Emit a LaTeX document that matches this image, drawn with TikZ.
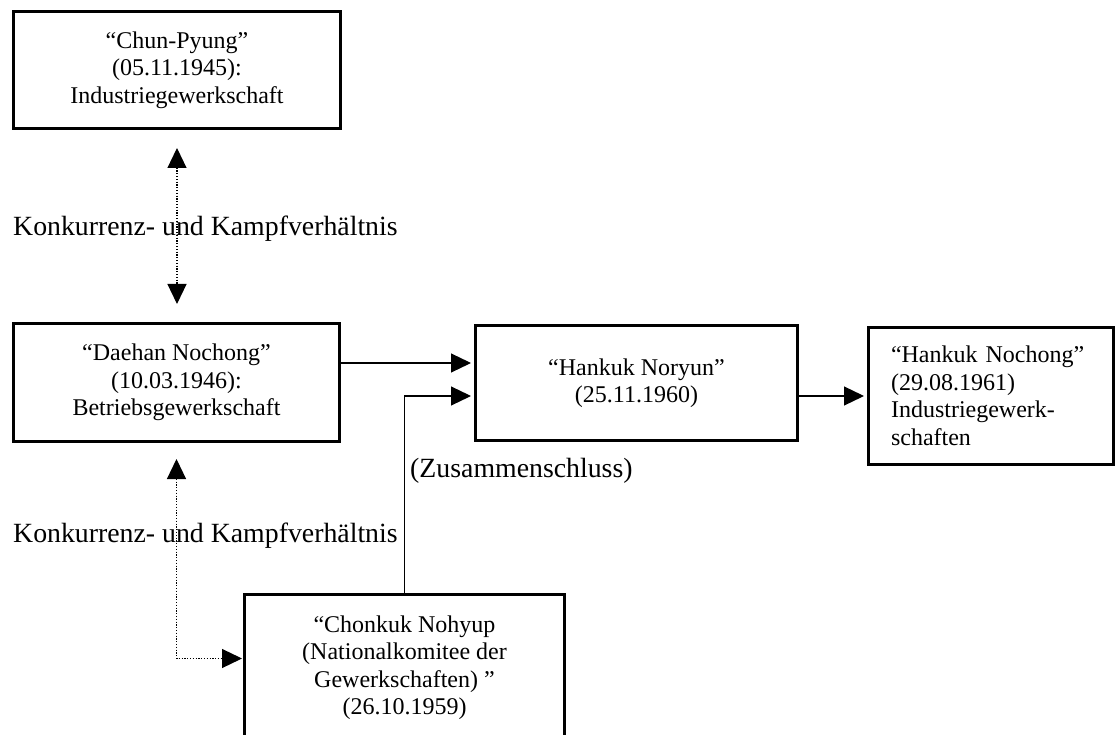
\documentclass[tikz,border=0pt]{standalone}
\usepackage{fontspec}
\setmainfont{Liberation Serif}
\usetikzlibrary{arrows.meta}

\begin{document}
\begin{tikzpicture}[
            x=1pt,
            y=-1pt,
            >={Triangle[length=20pt,width=19pt]},
            union/.style={draw, line width=3pt, align=center, inner sep=0pt,
              font={\fontsize{24pt}{27.5pt}\selectfont}},
            link/.style={line width=1.2pt, ->, shorten >=3pt},
            rival/.style={line width=1.2pt, dash pattern=on 1.2pt off 1.6pt, <->},
            note/.style={inner sep=0pt, anchor=base west,
              font={\fontsize{27.8pt}{32pt}\selectfont}},
          ]
          \useasboundingbox (0,0) rectangle (1117,735);
          \clip (0,0) rectangle (1117,735);
          \node[union, minimum width=327pt, minimum height=117pt] (chun) at (177,70)
            {“Chun-Pyung”\\(05.11.1945):\\Industriegewerkschaft};
          \node[union, minimum width=326pt, minimum height=118pt] (daehan) at (176.5,382.5)
            {“Daehan Nochong”\\(10.03.1946):\\Betriebsgewerkschaft};
          \node[union, minimum width=322pt, minimum height=115pt] (noryun) at (636.5,383)
            {“Hankuk Noryun”\\(25.11.1960)};
          \node[union, align=left, text width=200pt, minimum width=245pt, minimum height=137pt] (nochong) at (991,396)
            {“Hankuk Nochong”\\(29.08.1961)\\Industriegewerk-\\schaften};
          \node[union, minimum width=320pt, minimum height=146pt] (chonkuk) at (404.5,667.5)
            {“Chonkuk Nohyup\\(Nationalkomitee der\\Gewerkschaften) ”\\(26.10.1959)};
          \coordinate (inA) at ([yshift=20pt]noryun.west);
          \coordinate (inB) at ([yshift=-13pt]noryun.west);
          \coordinate (inC) at ([yshift=9pt]chonkuk.west);
          \draw[rival, shorten <=18pt, shorten >=18pt] (chun.south) -- (chun.south |- daehan.north);
          \draw[rival, shorten <=16pt, shorten >=1pt] (daehan.south) |- (inC);
          \draw[link] (daehan.east |- inA) -- (inA);
          \draw[link] (chonkuk.north) |- (inB);
          \draw[link] (noryun.east |- nochong.west) -- (nochong.west);
          \node[note] (rivalA) at (13,236) {Konkurrenz- und Kampfverhältnis};
          \node[note] (rivalB) at (13,542) {Konkurrenz- und Kampfverhältnis};
          \node[note] (merge) at (410,477) {(Zusammenschluss)};
        \end{tikzpicture}
\end{document}
